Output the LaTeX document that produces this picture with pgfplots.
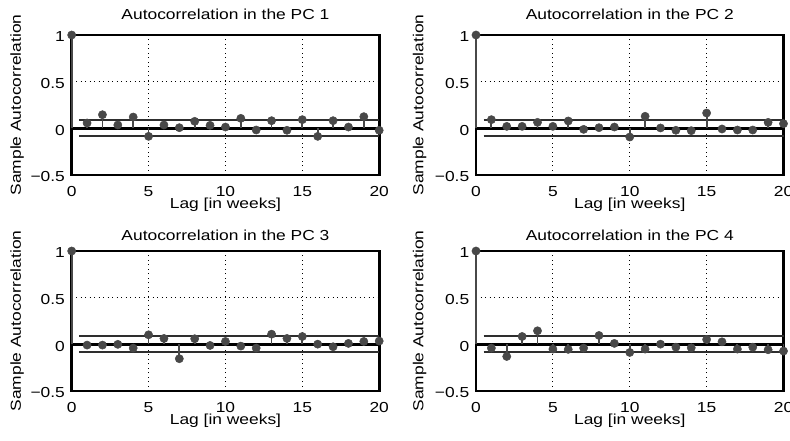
\documentclass[border=0pt]{standalone}
\usepackage{pgfplots}
\pgfplotsset{compat=1.18}
\usepackage{fontspec}
\setmainfont[FakeStretch=1.2]{Liberation Sans}
\definecolor{stem}{RGB}{72,72,72}
\pgfplotsset{
 every axis/.append style={font=\fontsize{14.5}{17}\selectfont, line width=2.6pt},
 acf/.style={
  scale only axis, width=307.5pt, height=140pt,
  xmin=0, xmax=20, ymin=-0.5, ymax=1,
  xtick={0,5,10,15,20}, xticklabels={0,5,10,15,20},
  ytick={-0.5,0,0.5,1}, yticklabels={−0.5,0,0.5,1},
  major tick length=0pt,
  grid=major,
  major grid style={black, line width=0.8pt, dash pattern=on 0.9pt off 3.6pt},
  axis line style={line width=2.6pt, black},
  clip=false,
  xlabel={Lag [in weeks]}, ylabel={Sample Autocorrelation},
  xticklabel style={anchor=base, yshift=-21.7pt, inner sep=0pt},
  yticklabel style={anchor=east, xshift=-5.5pt, yshift=-2pt, inner sep=0pt},
  xlabel style={at={(axis description cs:0.5,0)}, anchor=base, yshift=-33pt, inner sep=0pt},
  title style={at={(axis description cs:0.5,1)}, anchor=base, inner sep=0pt},
 },
 conf/.style={black!82, line width=2pt},
 zeroline/.style={black, line width=2.6pt},
 stems/.style={ycomb, stem, line width=1.8pt, mark=*, mark size=4.1pt, mark options={fill=stem, draw=stem, line width=0.5pt}},
}
\begin{document}
\begin{tikzpicture}
\useasboundingbox (0,0) rectangle (790pt,440pt);
% PC 1
\begin{axis}[acf, at={(71.7pt,265pt)}, anchor=south west,
  title={Autocorrelation in the PC 1}, title style={yshift=9.7pt},
  ylabel style={at={(axis description cs:-0.1772,0.5)}, anchor=center, inner sep=0pt}]
\addplot[conf] coordinates {(0.5,0.085) (20,0.085)};
\addplot[conf] coordinates {(0.5,-0.085) (20,-0.085)};
\addplot[zeroline] coordinates {(0,0) (20,0)};
\addplot[stems] coordinates {
(0,1) (1,0.057) (2,0.146) (3,0.036) (4,0.121) (5,-0.086) (6,0.036) (7,0.007)
(8,0.075) (9,0.032) (10,0.014) (11,0.107) (12,-0.018) (13,0.082) (14,-0.021)
(15,0.093) (16,-0.086) (17,0.082) (18,0.014) (19,0.125) (20,-0.021)};
\end{axis}
% PC 2
\begin{axis}[acf, at={(476pt,265pt)}, anchor=south west,
  title={Autocorrelation in the PC 2}, title style={yshift=9.7pt},
  ylabel style={at={(axis description cs:-0.1837,0.5)}, anchor=center, inner sep=0pt}]
\addplot[conf] coordinates {(0.5,0.085) (20,0.085)};
\addplot[conf] coordinates {(0.5,-0.085) (20,-0.085)};
\addplot[zeroline] coordinates {(0,0) (20,0)};
\addplot[stems] coordinates {
(0,1) (1,0.093) (2,0.021) (3,0.021) (4,0.064) (5,0.021) (6,0.079) (7,-0.011)
(8,0.007) (9,0.014) (10,-0.093) (11,0.129) (12,0.004) (13,-0.021) (14,-0.025)
(15,0.164) (16,-0.007) (17,-0.018) (18,-0.018) (19,0.064) (20,0.05)};
\end{axis}
% PC 3
\begin{axis}[acf, at={(71.7pt,49pt)}, anchor=south west,
  title={Autocorrelation in the PC 3}, title style={yshift=4.5pt},
  ylabel style={at={(axis description cs:-0.1772,0.5)}, anchor=center, inner sep=0pt}]
\addplot[conf] coordinates {(0.5,0.085) (20,0.085)};
\addplot[conf] coordinates {(0.5,-0.085) (20,-0.085)};
\addplot[zeroline] coordinates {(0,0) (20,0)};
\addplot[stems] coordinates {
(0,1) (1,-0.008) (2,-0.008) (3,0) (4,-0.04) (5,0.102) (6,0.063) (7,-0.154)
(8,0.06) (9,-0.012) (10,0.031) (11,-0.019) (12,-0.04) (13,0.109) (14,0.063)
(15,0.084) (16,0.002) (17,-0.026) (18,0.01) (19,0.031) (20,0.035)};
\end{axis}
% PC 4
\begin{axis}[acf, at={(476pt,49pt)}, anchor=south west,
  title={Autocorrelation in the PC 4}, title style={yshift=4.5pt},
  ylabel style={at={(axis description cs:-0.1837,0.5)}, anchor=center, inner sep=0pt}]
\addplot[conf] coordinates {(0.5,0.085) (20,0.085)};
\addplot[conf] coordinates {(0.5,-0.085) (20,-0.085)};
\addplot[zeroline] coordinates {(0,0) (20,0)};
\addplot[stems] coordinates {
(0,1) (1,-0.04) (2,-0.13) (3,0.084) (4,0.145) (5,-0.051) (6,-0.054) (7,-0.04)
(8,0.095) (9,0.01) (10,-0.087) (11,-0.051) (12,0.002) (13,-0.03) (14,-0.037)
(15,0.052) (16,0.027) (17,-0.051) (18,-0.03) (19,-0.058) (20,-0.072)};
\end{axis}
\end{tikzpicture}
\end{document}
